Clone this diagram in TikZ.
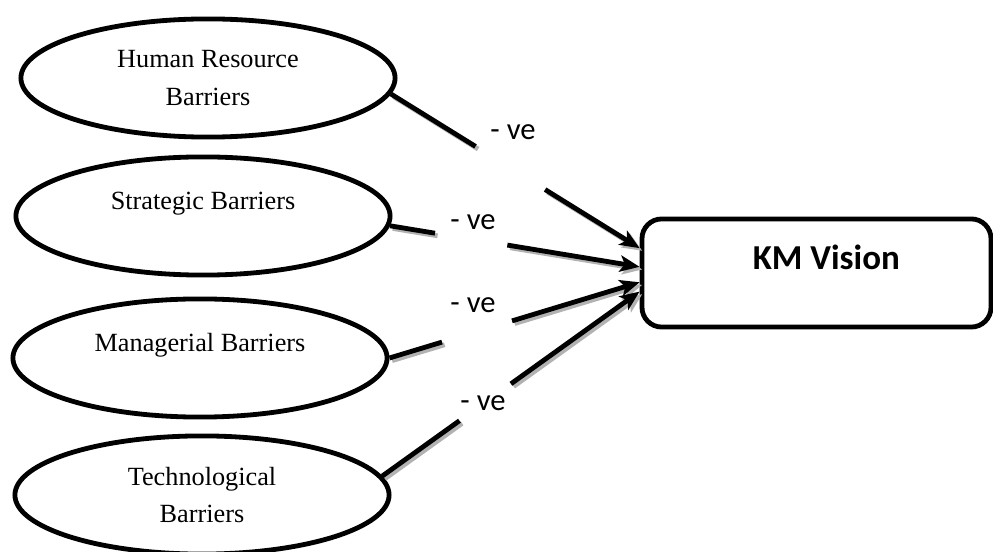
\documentclass[tikz,border=0pt]{standalone}
\usepackage{fontspec}
\setmainfont{Liberation Serif}
\newfontfamily\calibri{Carlito}
\usetikzlibrary{arrows.meta, calc, shapes.geometric}

\begin{document}
\begin{tikzpicture}[x=0.457pt, y=-0.457pt, line width=2.2pt,
  barrier/.style={draw, ellipse, minimum width=171pt, minimum height=54pt, align=center, font=\fontsize{12}{17}\selectfont},
  outcome/.style={draw, rounded corners=9pt, minimum width=159.5pt, minimum height=49.4pt, text depth=14pt, font=\calibri\bfseries\fontsize{16}{19}\selectfont},
  link/.style={preaction={draw=gray!60, transform canvas={shift={(1.2pt,-1.2pt)}}}},
  tip/.style={-{Stealth[length=9pt, width=7.5pt, inset=2.2pt]}},
  sign/.style={font=\calibri\fontsize{14}{16}\selectfont}]
\useasboundingbox (0, 0) rectangle (993, 552);
% barriers and outcome
\node[barrier] (hr) at (208, 78) {Human Resource\\Barriers};
\node[barrier] (sb) at (203, 216) {Strategic Barriers\\[-3pt]~};
\node[barrier] (mb) at (200, 358) {Managerial Barriers\\[-3pt]~};
\node[barrier] (tb) at (202, 495) {Technological\\Barriers};
\node[outcome] (km) at (816.5, 273) {\hspace*{9pt}KM Vision};
% links, broken where the sign sits
\draw[link] (hr.-5) -- ($(hr.-5)!0.34!(km.172.5)$);
\draw[link, tip] ($(hr.-5)!0.62!(km.172.5)$) -- (km.172.5);
\draw[link] (sb.-3) -- ($(sb.-3)!0.18!(km.178)$);
\draw[link, tip] ($(sb.-3)!0.47!(km.178)$) -- (km.178);
\draw[link] (mb.east) -- ($(mb.east)!0.21!(km.183)$);
\draw[link, tip] ($(mb.east)!0.49!(km.183)$) -- (km.183);
\draw[link] (tb.6) -- ($(tb.6)!0.30!(km.186)$);
\draw[link, tip] ($(tb.6)!0.50!(km.186)$) -- (km.186);
% signs
\node[sign] (s1) at (513, 132) {- ve};
\node[sign] (s2) at (473, 222) {- ve};
\node[sign] (s3) at (473, 305) {- ve};
\node[sign] (s4) at (483, 403) {- ve};
\end{tikzpicture}
\end{document}
